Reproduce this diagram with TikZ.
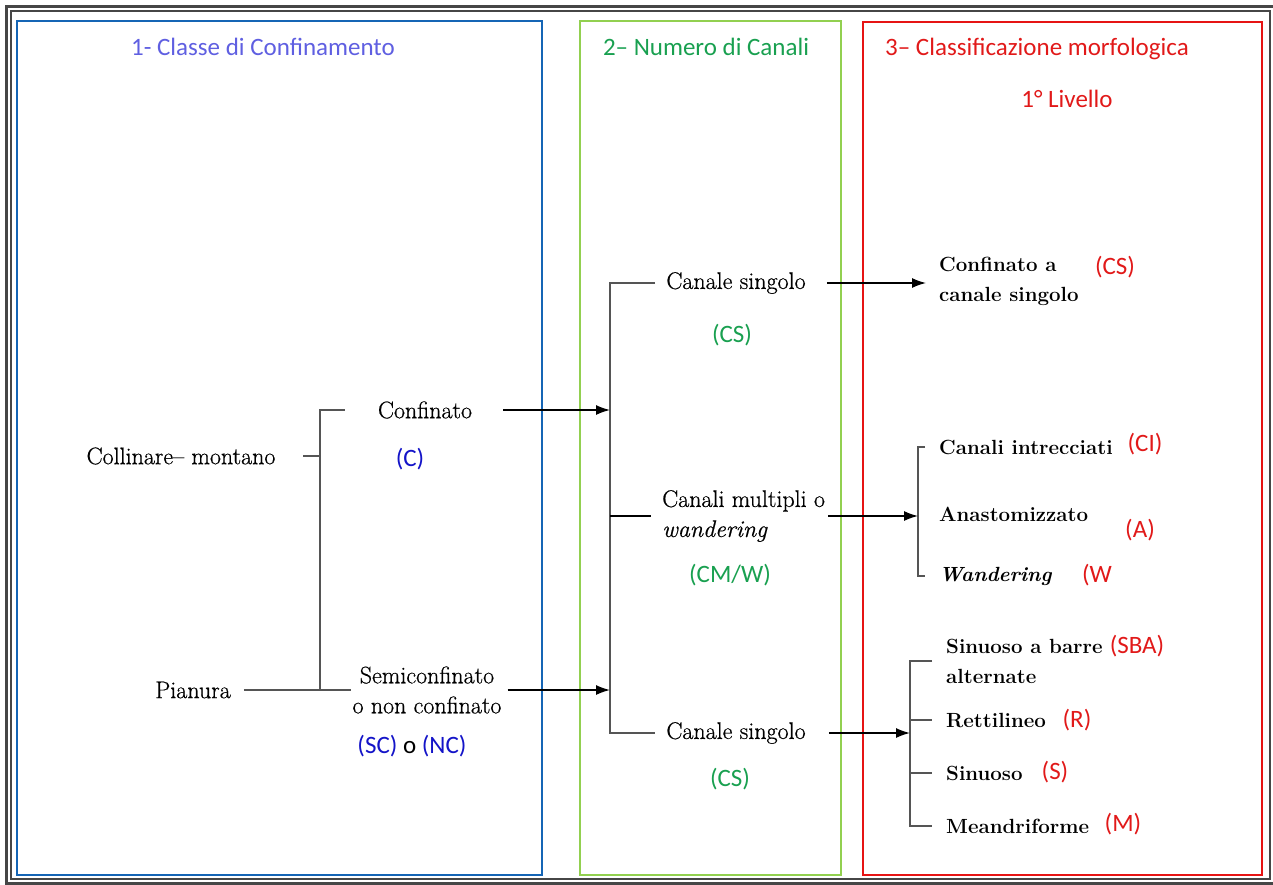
\documentclass[tikz,border=0pt]{standalone}
\usepackage{fontspec}
\newfontfamily\calibri{Carlito}
\newfontfamily\century{Latin Modern Roman}[FakeBold=0.6]
\usetikzlibrary{arrows.meta}

\definecolor{boxblue}{RGB}{21,101,181}
\definecolor{boxgreen}{RGB}{146,208,80}
\definecolor{boxred}{RGB}{230,20,20}
\definecolor{titleblue}{RGB}{95,95,225}
\definecolor{codeblue}{RGB}{20,20,200}
\definecolor{codegreen}{RGB}{25,160,80}
\definecolor{codered}{RGB}{225,25,25}
\definecolor{framegray}{RGB}{70,70,70}
\definecolor{linegray}{RGB}{85,85,85}

\tikzset{
  panel/.style={line width=2.6pt},
  title/.style={font=\calibri\fontsize{25}{30}\selectfont},
  lbl/.style={font=\century\fontsize{24}{30}\selectfont, inner sep=1pt},
  lblb/.style={font=\fontsize{20.5}{30}\selectfont\bfseries, inner sep=1pt, anchor=west, align=left},
  code/.style={font=\calibri\fontsize{25}{30}\selectfont, inner sep=1pt},
  tree/.style={draw=linegray, line width=1.4pt},
  flow/.style={-{Latex[length=14pt,width=10pt]}, line width=1.4pt},
}

\begin{document}
\begin{tikzpicture}[x=1pt,y=-1pt]
  \useasboundingbox (0,0) rectangle (1273,884);
  % frame and panels
  \draw[framegray, line width=3pt] (6,6) rectangle (1278,883);
  \draw[framegray, line width=1.3pt] (11,11) rectangle (1270,879);
  \draw[panel, boxblue] (17,21) rectangle (542,875);
  \draw[panel, boxgreen] (580,21) rectangle (841,875);
  \draw[panel, boxred] (863,22) rectangle (1262,875);

  \node[title, text=titleblue] (t1) at (263,47) {1- Classe di Confinamento};
  \node[title, text=codegreen] (t2) at (706,47) {2– Numero di Canali};
  \node[title, text=codered] (t3) at (1037,49) {3– Classificazione morfologica};
  \node[title, text=codered] (t3b) at (1067,99) {1° Livello};

  % 1 - confinamento
  \node[lbl] (coll) at (181,456) {Collinare– montano};
  \node[lbl] (pian) at (193,690) {Pianura};
  \node[lbl] (conf) at (425,410) {Confinato};
  \node[code, text=codeblue] (confc) at (410,459) {(C)};
  \node[lbl, align=center] (semi) at (427,690) {Semiconfinato\\o non confinato};
  \node[code] (semic) at (412,746) {\textcolor{codeblue}{(SC)} o \textcolor{codeblue}{(NC)}};

  % 2 - numero di canali
  \node[lbl] (cs1) at (736,283) {Canale singolo};
  \node[code, text=codegreen] (cs1c) at (732,335) {(CS)};
  \node[lbl, anchor=west, align=left] (cm) at (661,516) {Canali multipli o\\\textit{wandering}};
  \node[code, text=codegreen] (cmc) at (730,575) {(CM/W)};
  \node[lbl] (cs2) at (736,733) {Canale singolo};
  \node[code, text=codegreen] (cs2c) at (730,779) {(CS)};

  % 3 - classificazione morfologica
  \node[lblb] (rcs) at (938,281) {Confinato a\\canale singolo};
  \node[code, text=codered] (rcsc) at (1115,267) {(CS)};
  \node[lblb] (ci) at (938,447) {Canali intrecciati};
  \node[code, text=codered] (cic) at (1145,444) {(CI)};
  \node[lblb] (an) at (938,514) {Anastomizzato};
  \node[code, text=codered] (anc) at (1140,530) {(A)};
  \node[lblb] (wa) at (938,576) {\textit{Wandering}};
  \node[code, text=codered] (wac) at (1097,575) {(W};
  \node[lblb] (sba) at (945,661) {Sinuoso a barre\\alternate};
  \node[code, text=codered] (sbac) at (1137,646) {(SBA)};
  \node[lblb] (re) at (945,720) {Rettilineo};
  \node[code, text=codered] (rec) at (1077,720) {(R)};
  \node[lblb] (si) at (945,773) {Sinuoso};
  \node[code, text=codered] (sic) at (1055,772) {(S)};
  \node[lblb] (me) at (945,826) {Meandriforme};
  \node[code, text=codered] (mec) at (1123,824) {(M)};

  % brackets
  \coordinate (b1) at (320,690);
  \coordinate (b2) at (610,733);
  \coordinate (b3t) at (918,447);
  \coordinate (b3b) at (918,576);
  \coordinate (b4t) at (910,661);
  \coordinate (b4b) at (910,826);

  \draw[tree] ([xshift=-32pt]conf.west) -| (b1) -- (semi.west |- b1);
  \draw[tree] ([xshift=12pt]pian.east) -- (b1);
  \draw[tree] (coll -| b1) -- ++(-17pt,0);
  \draw[tree] ([xshift=-10pt]cs1.west) -| (b2) -- ([xshift=-10pt]cs2.west);
  \draw[tree, black] (cm -| b2) -- ([xshift=-10pt]cm.west);
  \draw[tree] ([xshift=-13pt]ci.west) -- (b3t) -- (b3b) -- ([xshift=-13pt]wa.west);
  \draw[tree] ([xshift=-13pt]sba.west) -- (b4t) -- (b4b) -- ([xshift=-13pt]me.west);
  \foreach \leaf in {re,si}
    \draw[tree] (\leaf -| b4t) -- ([xshift=-13pt]\leaf.west);

  % arrows
  \draw[flow] ([xshift=30pt]conf.east) -- (conf -| b2);
  \draw[flow] ([xshift=5pt]semi.east) -- (semi -| b2);
  \draw[flow] ([xshift=20pt]cs1.east) -- ([xshift=-12pt]cs1 -| rcs.west);
  \draw[flow] ([xshift=2pt]cm.east) -- (cm -| b3t);
  \draw[flow] ([xshift=22pt]cs2.east) -- (cs2 -| b4t);

\end{tikzpicture}
\end{document}
